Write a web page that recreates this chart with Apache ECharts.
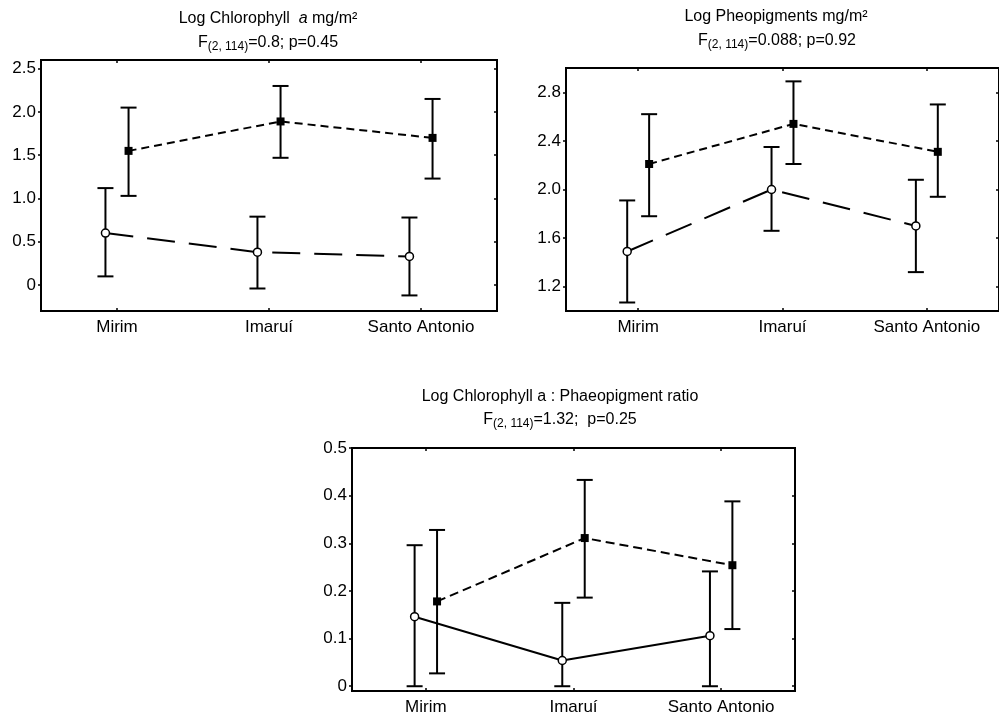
<!DOCTYPE html>
<html>
<head>
<meta charset="utf-8">
<script src="https://cdn.jsdelivr.net/npm/echarts@6/dist/echarts.min.js"></script>
<style>
  html, body { margin: 0; padding: 0; background: #fff; }
  #main { width: 999px; height: 717px; }
</style>
</head>
<body>
<div id="main"></div>
<script>
// categories
const sites = ['Mirim', 'Imaruí', 'Santo Antonio']

// Log Chlorophyll a (mg/m²)
const chlFilledMean = [1.55, 1.89, 1.70]
const chlFilledLow = [1.03, 1.47, 1.23]
const chlFilledHigh = [2.05, 2.30, 2.15]
const chlOpenMean = [0.60, 0.38, 0.33]
const chlOpenLow = [0.10, -0.04, -0.12]
const chlOpenHigh = [1.12, 0.79, 0.78]

// Log Pheopigments (mg/m²)
const pheoFilledMean = [2.21, 2.54, 2.31]
const pheoFilledLow = [1.78, 2.21, 1.94]
const pheoFilledHigh = [2.62, 2.89, 2.70]
const pheoOpenMean = [1.49, 2.00, 1.70]
const pheoOpenLow = [1.07, 1.66, 1.32]
const pheoOpenHigh = [1.91, 2.35, 2.08]

// Log Chlorophyll a : Phaeopigment ratio
const ratioFilledMean = [0.178, 0.311, 0.254]
const ratioFilledLow = [0.027, 0.186, 0.120]
const ratioFilledHigh = [0.328, 0.433, 0.388]
const ratioOpenMean = [0.146, 0.054, 0.106]
const ratioOpenLow = [0, 0, 0]
const ratioOpenHigh = [0.296, 0.175, 0.241]

// y tick labels
const chlTicks = [0, 0.5, 1.0, 1.5, 2.0, 2.5]
const pheoTicks = [1.2, 1.6, 2.0, 2.4, 2.8]
const ratioTicks = [0, 0.1, 0.2, 0.3, 0.4, 0.5]

const FONT = 'Liberation Sans, Arial, sans-serif'
const chart = echarts.init(document.getElementById('main'))

// small horizontal shift so the two groups don't overlap
const shift = 0.076
const pos = (i, side) => i + side * shift

const grids = [
  { left: 41, top: 60, width: 456, height: 251 },
  { left: 566, top: 68, width: 444, height: 243 },
  { left: 352, top: 448, width: 443, height: 243 }
]
const yRanges = [[-0.3, 2.6, chlTicks], [1.0, 3.0, pheoTicks], [-0.01, 0.5, ratioTicks]]

const fmtY = v => (v === 0 ? '0' : v.toFixed(1))
const tickStyle = { color: '#000', width: 1.5 }
const noLine = { show: false, onZero: false }

const xAxes = []
const yAxes = []
grids.forEach((g, k) => {
  xAxes.push({
    type: 'value', gridIndex: k, min: -0.5, max: 2.5,
    axisLine: noLine, splitLine: { show: false },
    axisTick: { inside: true, length: 3, customValues: [0, 1, 2], lineStyle: tickStyle },
    axisLabel: { customValues: [0, 1, 2], formatter: v => sites[v], color: '#000', fontFamily: FONT, fontSize: 17, margin: 8 }
  })
  xAxes.push({
    type: 'value', gridIndex: k, position: 'top', min: -0.5, max: 2.5,
    axisLine: noLine, splitLine: { show: false },
    axisTick: { inside: true, length: 3, customValues: [0, 1, 2], lineStyle: tickStyle },
    axisLabel: { show: false }
  })
  const [mn, mx, ticks] = yRanges[k]
  yAxes.push({
    type: 'value', gridIndex: k, min: mn, max: mx,
    axisLine: noLine, splitLine: { show: false },
    axisTick: { inside: false, length: 3, customValues: ticks, lineStyle: tickStyle },
    axisLabel: { customValues: ticks, formatter: fmtY, color: '#000', fontFamily: FONT, fontSize: 17, margin: 5 }
  })
  yAxes.push({
    type: 'value', gridIndex: k, position: 'right', min: mn, max: mx,
    axisLine: noLine, splitLine: { show: false },
    axisTick: { inside: true, length: 3, customValues: ticks, lineStyle: tickStyle },
    axisLabel: { show: false }
  })
})

// error bar drawing
function errorBars(k, side, low, high) {
  return {
    type: 'custom', xAxisIndex: k * 2, yAxisIndex: k * 2, z: 1,
    data: low.map((v, i) => [pos(i, side), v, high[i]]),
    encode: { x: 0, y: [1, 2] },
    renderItem: (params, api) => {
      const x = api.value(0)
      const top = api.coord([x, api.value(2)])
      const bot = api.coord([x, api.value(1)])
      const hw = 8
      const st = { stroke: '#000', lineWidth: 2 }
      return {
        type: 'group',
        children: [
          { type: 'line', shape: { x1: top[0], y1: top[1], x2: bot[0], y2: bot[1] }, style: st },
          { type: 'line', shape: { x1: top[0] - hw, y1: top[1], x2: top[0] + hw, y2: top[1] }, style: st },
          { type: 'line', shape: { x1: bot[0] - hw, y1: bot[1], x2: bot[0] + hw, y2: bot[1] }, style: st }
        ]
      }
    }
  }
}

function meanLine(k, side, mean, filled, dash) {
  return {
    type: 'line', xAxisIndex: k * 2, yAxisIndex: k * 2, z: 3,
    data: mean.map((v, i) => [pos(i, side), v]),
    symbol: filled ? 'rect' : 'circle',
    symbolSize: 8,
    showSymbol: true,
    itemStyle: filled
      ? { color: '#000' }
      : { color: '#fff', borderColor: '#000', borderWidth: 1.5 },
    lineStyle: { color: '#000', width: 2, type: dash },
    emphasis: { disabled: true },
    animation: false
  }
}

const series = [
  errorBars(0, 1, chlFilledLow, chlFilledHigh),
  errorBars(0, -1, chlOpenLow, chlOpenHigh),
  meanLine(0, 1, chlFilledMean, true, [8, 5]),
  meanLine(0, -1, chlOpenMean, false, [28, 14]),

  errorBars(1, 1, pheoFilledLow, pheoFilledHigh),
  errorBars(1, -1, pheoOpenLow, pheoOpenHigh),
  meanLine(1, 1, pheoFilledMean, true, [8, 5]),
  meanLine(1, -1, pheoOpenMean, false, [28, 14]),

  errorBars(2, 1, ratioFilledLow, ratioFilledHigh),
  errorBars(2, -1, ratioOpenLow, ratioOpenHigh),
  meanLine(2, 1, ratioFilledMean, true, [9, 5]),
  meanLine(2, -1, ratioOpenMean, false, 'solid')
]

// titles
const rich = {
  n: { fontFamily: FONT, fontSize: 16, lineHeight: 19, fill: '#000' },
  i: { fontFamily: FONT, fontSize: 16, lineHeight: 19, fontStyle: 'italic', fill: '#000' },
  s: { fontFamily: FONT, fontSize: 12, lineHeight: 12, verticalAlign: 'bottom', fill: '#000' }
}
const titleText = (x, y, text) => ({
  type: 'text', x: x, y: y,
  style: { text: text, rich: rich, align: 'center', verticalAlign: 'middle', fill: '#000' }
})

chart.setOption({
  animation: false,
  grid: grids.map(g => Object.assign({ show: true, borderColor: '#000', borderWidth: 2, backgroundColor: 'transparent', containLabel: false }, g)),
  xAxis: xAxes,
  yAxis: yAxes,
  series: series,
  graphic: [
    titleText(268, 19, '{n|Log Chlorophyll  }{i|a}{n| mg/m²}'),
    titleText(268, 43, '{n|F}{s|(2, 114)}{n|=0.8; p=0.45}'),
    titleText(776, 17, '{n|Log Pheopigments mg/m²}'),
    titleText(777, 41, '{n|F}{s|(2, 114)}{n|=0.088; p=0.92}'),
    titleText(560, 397, '{n|Log Chlorophyll a : Phaeopigment ratio}'),
    titleText(560, 420, '{n|F}{s|(2, 114)}{n|=1.32;  p=0.25}')
  ]
})
</script>
</body>
</html>
